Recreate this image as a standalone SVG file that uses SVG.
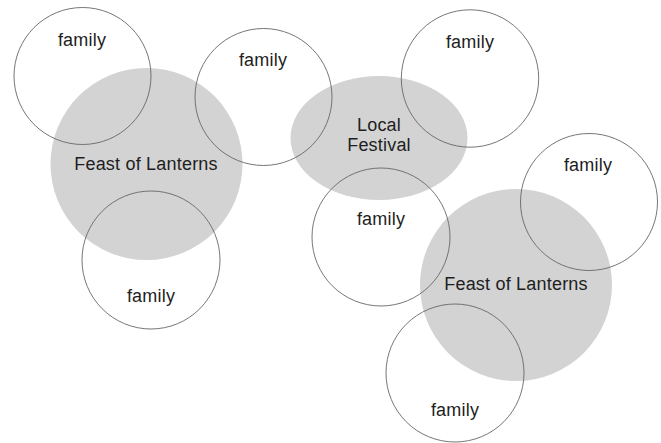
<svg xmlns="http://www.w3.org/2000/svg" width="661" height="443" viewBox="0 0 661 443">
<style>
.bg{fill:#ffffff}
.event{fill:#d3d3d3;stroke:none}
.fam{fill:none;stroke:#666666;stroke-width:0.9}
text{font-family:"Liberation Sans","Helvetica Neue",Arial,sans-serif;font-size:18px;fill:#1e1e1e;text-anchor:middle;letter-spacing:0.2px}
</style>
<rect class="bg" x="0" y="0" width="661" height="443"/>
<g id="events">
<g id="feast1"><circle class="event" cx="146.5" cy="164" r="96"/><text x="146" y="170">Feast of Lanterns</text></g>
<g id="local"><ellipse class="event" cx="379" cy="138" rx="88.5" ry="62"/><text x="379" y="131">Local</text><text x="379" y="151">Festival</text></g>
<g id="feast2"><circle class="event" cx="516" cy="285" r="96"/><text x="516" y="290">Feast of Lanterns</text></g>
</g>
<g id="families">
<g id="family1"><circle class="fam" cx="82.5" cy="76" r="68.5"/><text x="82" y="46">family</text></g>
<g id="family2"><circle class="fam" cx="263.5" cy="97" r="68.5"/><text x="263" y="66">family</text></g>
<g id="family3"><circle class="fam" cx="151" cy="260" r="69"/><text x="151" y="302">family</text></g>
<g id="family4"><circle class="fam" cx="470" cy="78.5" r="68.7"/><text x="470" y="48">family</text></g>
<g id="family5"><circle class="fam" cx="381" cy="237" r="69"/><text x="381" y="225">family</text></g>
<g id="family6"><circle class="fam" cx="589" cy="202" r="68.5"/><text x="588" y="171">family</text></g>
<g id="family7"><circle class="fam" cx="455" cy="373" r="69"/><text x="455" y="416">family</text></g>
</g>
</svg>
